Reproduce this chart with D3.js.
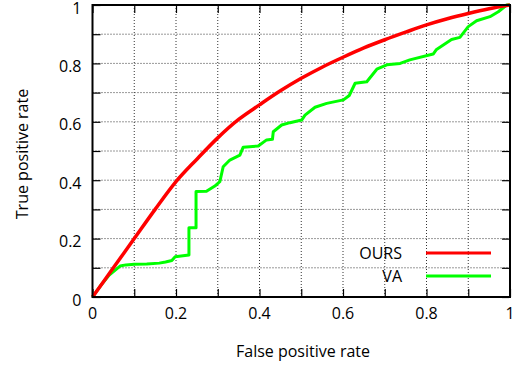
<!DOCTYPE html>
<html><head><meta charset="utf-8">
<script src="https://cdn.jsdelivr.net/npm/d3@7"></script>
<style>
html,body{margin:0;padding:0;background:#fff;}
svg text{font-family:"Open Sans","Noto Sans",sans-serif;fill:#000;}
</style></head>
<body><svg id="c" width="521" height="370"></svg>
<script>
const seriesNames = ["OURS", "VA"];
const seriesColors = ["#ff0000", "#00ff00"];
const oursFPR = [0,0.05,0.1,0.15,0.2,0.25,0.3,0.35,0.4,0.45,0.5,0.55,0.6,0.65,0.7,0.75,0.8,0.85,0.9,0.95,1];
const oursTPR = [0,0.10,0.20,0.30,0.395,0.472,0.545,0.608,0.658,0.706,0.749,0.787,0.821,0.853,0.881,0.907,0.932,0.953,0.971,0.987,1];
const vaFPR = [0,0.02,0.04,0.066,0.08,0.1,0.13,0.16,0.175,0.19,0.198,0.231,0.231,0.248,0.248,0.273,0.293,0.305,0.313,0.329,0.353,0.361,0.397,0.417,0.431,0.433,0.453,0.473,0.501,0.509,0.533,0.561,0.601,0.615,0.629,0.657,0.681,0.705,0.737,0.76,0.816,0.824,0.86,0.88,0.9,0.92,0.952,0.972,0.992,1];
const vaTPR = [0,0.04,0.075,0.106,0.11,0.112,0.113,0.116,0.12,0.125,0.138,0.144,0.237,0.237,0.361,0.362,0.38,0.395,0.446,0.469,0.486,0.513,0.517,0.538,0.54,0.566,0.589,0.597,0.606,0.623,0.650,0.663,0.675,0.69,0.732,0.737,0.780,0.795,0.80,0.812,0.832,0.848,0.882,0.889,0.926,0.946,0.96,0.977,1.0,1.0];
const tickValues = [0,0.2,0.4,0.6,0.8,1];
const tickLabels = ["0","0.2","0.4","0.6","0.8","1"];
const gridValues = [0.1,0.2,0.3,0.4,0.5,0.6,0.7,0.8,0.9];
const minorTicks = [0,0.1,0.2,0.3,0.4,0.5,0.6,0.7,0.8,0.9,1];
const xTitle = "False positive rate";
const yTitle = "True positive rate";

const L=92.5, R=510, T=5, B=297;
const svg = d3.select("#c");
const x = d3.scaleLinear().domain([0,1]).range([L,R]);
const y = d3.scaleLinear().domain([0,1]).range([B,T]);

// grid
const g = svg.append("g");
g.selectAll(".gx").data(gridValues).join("line")
  .attr("x1",d=>x(d)).attr("x2",d=>x(d)).attr("y1",T).attr("y2",B)
  .attr("stroke","#333").attr("stroke-width",1).attr("stroke-dasharray","1,2");
g.selectAll(".gy").data(gridValues).join("line")
  .attr("y1",d=>y(d)).attr("y2",d=>y(d)).attr("x1",L).attr("x2",R)
  .attr("stroke","#333").attr("stroke-width",1).attr("stroke-dasharray","1,2");

// ticks (inward, all four sides)
const tl = 8;
const axB = d3.axisBottom(x).tickValues(minorTicks).tickSize(-tl).tickFormat("");
const axT = d3.axisTop(x).tickValues(minorTicks).tickSize(-tl).tickFormat("");
const axL = d3.axisLeft(y).tickValues(minorTicks).tickSize(-tl).tickFormat("");
const axR = d3.axisRight(y).tickValues(minorTicks).tickSize(-tl).tickFormat("");
[[axB,`translate(0,${B})`],[axT,`translate(0,${T})`],[axL,`translate(${L},0)`],[axR,`translate(${R},0)`]].forEach(([a,t])=>{
  const s = svg.append("g").attr("transform",t).call(a);
  s.select(".domain").remove();
  s.selectAll("line").attr("stroke","#000").attr("stroke-width",1.2);
});

// tick labels
svg.selectAll(".xl").data(tickValues).join("text")
  .attr("x",d=>x(d)).attr("y",B+22).attr("text-anchor","middle")
  .attr("font-size",16).text((d,i)=>tickLabels[i]);
svg.selectAll(".yl").data(tickValues).join("text")
  .attr("x",L-11).attr("y",d=>y(d)+8.5).attr("text-anchor","end")
  .attr("font-size",16).text((d,i)=>tickLabels[i]);

// titles
svg.append("text").attr("x",303).attr("y",357).attr("text-anchor","middle").attr("font-size",16).text(xTitle);
svg.append("text").attr("transform","translate(28,154) rotate(-90)").attr("text-anchor","middle").attr("font-size",16).text(yTitle);

// curves
const line = d3.line().x(d=>x(d[0])).y(d=>y(d[1]));
const ours = oursFPR.map((v,i)=>[v,oursTPR[i]]);
const va = vaFPR.map((v,i)=>[v,vaTPR[i]]);
svg.append("path").datum(va).attr("d",line).attr("fill","none").attr("stroke",seriesColors[1]).attr("stroke-width",3).attr("stroke-linejoin","round");
svg.append("path").datum(ours).attr("d",d3.line().curve(d3.curveMonotoneX).x(d=>x(d[0])).y(d=>y(d[1]))).attr("fill","none").attr("stroke",seriesColors[0]).attr("stroke-width",3.5);

// frame
svg.append("rect").attr("x",L).attr("y",T).attr("width",R-L).attr("height",B-T).attr("fill","none").attr("stroke","#000").attr("stroke-width",2);

// legend
const legY = [253, 276];
seriesNames.forEach((n,i)=>{
  svg.append("text").attr("x",402).attr("y",legY[i]+6).attr("text-anchor","end").attr("font-size",16).text(n);
  svg.append("line").attr("x1",426).attr("x2",491).attr("y1",legY[i]).attr("y2",legY[i]).attr("stroke",seriesColors[i]).attr("stroke-width",3);
});
</script></body></html>
